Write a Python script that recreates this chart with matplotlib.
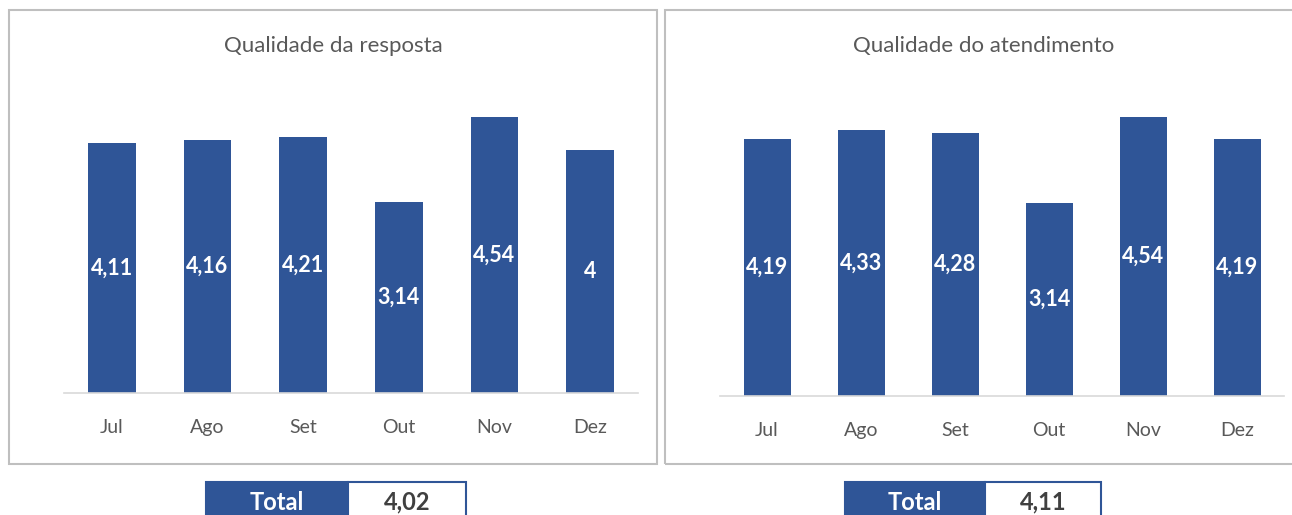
import matplotlib.pyplot as plt
from matplotlib.patches import Rectangle

# -----------------------------
# Data
# -----------------------------
months = ["Jul", "Ago", "Set", "Out", "Nov", "Dez"]
resposta = [4.11, 4.16, 4.21, 3.14, 4.54, 4.00]
atendimento = [4.19, 4.33, 4.28, 3.14, 4.54, 4.19]
titles = ["Qualidade da resposta", "Qualidade do atendimento"]
totals = ["4,02", "4,11"]

W, H = 1292, 515
BLUE = "#2F5597"
GRAY_TXT = "#595959"

plt.rcParams['font.family'] = ['Lato', 'DejaVu Sans']

fig = plt.figure(figsize=(W / 100, H / 100), dpi=100)


def fx(x):
    return x / W


def fy(y):
    return 1 - y / H


def fmt(v):
    s = f"{v:.2f}".rstrip("0").rstrip(".")
    return s.replace(".", ",")


# panel frames
fig.patches.append(Rectangle((fx(9), fy(464)), fx(648), (464 - 10) / H,
                             transform=fig.transFigure, fill=False,
                             edgecolor="#BFBFBF", linewidth=1.5))
fig.patches.append(Rectangle((fx(665), fy(464)), fx(660), (464 - 10) / H,
                             transform=fig.transFigure, fill=False,
                             edgecolor="#BFBFBF", linewidth=1.5))

# axes: (left, right, baseline y, top y) in pixels
panels = [
    (64, 638, 393, 89, resposta, 333),
    (720, 1284, 396, 89, atendimento, 984),
]

for i, (x0, x1, yb, yt, vals, tx) in enumerate(panels):
    ax = fig.add_axes([fx(x0), fy(yb), (x1 - x0) / W, (yb - yt) / H])
    x = range(len(months))
    ax.bar(x, vals, width=0.5, color=BLUE)
    ax.set_xlim(-0.5, len(months) - 0.5)
    ax.set_ylim(0, 5)
    ax.set_yticks([])
    ax.set_xticks(list(x))
    ax.set_xticklabels(months, fontsize=14, color=GRAY_TXT)
    ax.tick_params(axis="x", length=0, pad=19)
    for s in ["top", "left", "right"]:
        ax.spines[s].set_visible(False)
    ax.spines["bottom"].set_color("#D9D9D9")
    ax.spines["bottom"].set_linewidth(1.2)
    for xi, v in zip(x, vals):
        ax.text(xi, v / 2, fmt(v), ha="center", va="center",
                color="white", fontsize=15.5, fontweight="bold")
    fig.text(fx(tx), fy(46), titles[i], ha="center", va="center",
             fontsize=16, color=GRAY_TXT)

# Total boxes
boxes = [(206, 348, 466), (845, 985, 1101)]
for (b0, b1, b2), tot in zip(boxes, totals):
    fig.patches.append(Rectangle((fx(b0), fy(520)), (b1 - b0) / W, 38 / H,
                                 transform=fig.transFigure,
                                 facecolor=BLUE, edgecolor=BLUE, linewidth=1.5))
    fig.patches.append(Rectangle((fx(b1), fy(520)), (b2 - b1) / W, 38 / H,
                                 transform=fig.transFigure,
                                 facecolor="white", edgecolor=BLUE, linewidth=1.5))
    fig.text(fx((b0 + b1) / 2), fy(502), "Total", ha="center", va="center",
             color="white", fontsize=17, fontweight="bold")
    fig.text(fx((b1 + b2) / 2), fy(502), tot, ha="center", va="center",
             color="#404040", fontsize=17, fontweight="bold")

plt.savefig("out.png", dpi=100)
